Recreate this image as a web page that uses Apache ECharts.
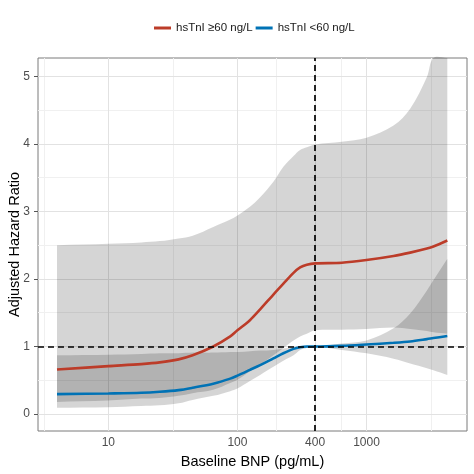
<!DOCTYPE html>
<html><head><meta charset="utf-8">
<script src="https://cdn.jsdelivr.net/npm/echarts@6/dist/echarts.min.js"></script>
<style>html,body{margin:0;padding:0;background:#fff}#c{width:474px;height:474px}</style>
</head><body><div id="c"></div>
<script>
// Baseline BNP (pg/mL) sample points
const bnp    = [4, 10, 18, 25, 35, 45, 65, 88, 100, 125, 150, 190, 227, 272, 306, 345, 400, 644, 1000, 1620, 2180, 2940, 3300, 4230];
// hsTnI >=60 ng/L
const redHR  = [0.66, 0.71, 0.74, 0.765, 0.81, 0.87, 1.0, 1.15, 1.24, 1.39, 1.55, 1.77, 1.93, 2.09, 2.17, 2.21, 2.23, 2.24, 2.28, 2.34, 2.39, 2.45, 2.48, 2.57];
const redLo  = [0.18, 0.20, 0.23, 0.24, 0.27, 0.31, 0.36, 0.46, 0.51, 0.63, 0.73, 0.87, 0.98, 1.09, 1.15, 1.19, 1.24, 1.25, 1.26, 1.28, 1.26, 1.23, 1.21, 1.19];
const redHi  = [2.50, 2.52, 2.54, 2.56, 2.60, 2.64, 2.77, 2.88, 2.94, 3.07, 3.21, 3.44, 3.66, 3.82, 3.91, 3.95, 3.99, 4.03, 4.09, 4.27, 4.52, 4.99, 5.30, 6.80];
// hsTnI <60 ng/L
const blueHR = [0.296, 0.306, 0.315, 0.33, 0.355, 0.39, 0.45, 0.525, 0.57, 0.655, 0.725, 0.825, 0.90, 0.965, 0.99, 1.0, 1.0, 1.01, 1.03, 1.055, 1.075, 1.11, 1.125, 1.155];
const blueLo = [0.093, 0.10, 0.12, 0.13, 0.16, 0.21, 0.27, 0.34, 0.38, 0.49, 0.58, 0.70, 0.79, 0.87, 0.95, 0.98, 1.0, 0.95, 0.90, 0.82, 0.75, 0.68, 0.65, 0.58];
const blueHi = [0.87, 0.88, 0.89, 0.90, 0.90, 0.91, 0.91, 0.92, 0.92, 0.93, 0.94, 0.95, 0.97, 0.99, 1.0, 1.0, 1.0, 1.045, 1.09, 1.27, 1.49, 1.83, 1.98, 2.30];

const xTicks = [10, 100, 400, 1000];
const xTickLabels = ['10', '100', '400', '1000'];
const xMinor = [3.162, 31.62, 200, 632.5, 3162];
const yTicks = [0, 1, 2, 3, 4, 5];
const yMinor = [0.5, 1.5, 2.5, 3.5, 4.5];
const refX = 400, refY = 1;

const FONT = '"Liberation Sans", Arial, sans-serif';
const chart = echarts.init(document.getElementById('c'), null, {renderer: 'canvas'});

function ribbon(lo, hi) {
  return {
    type: 'custom', coordinateSystem: 'cartesian2d', silent: true, z: 2,
    data: [[bnp[0], lo[0]]],
    renderItem: function (params, api) {
      const cs = params.coordSys;
      const cl = p => [p[0], Math.max(cs.y, Math.min(cs.y + cs.height, p[1]))];
      const n = bnp.length;
      const pts = [];
      for (let i = 0; i < n; i++) pts.push(cl(api.coord([bnp[i], hi[i]])));
      // repeat end vertices so the smoothed outline keeps sharp ends
      pts.push(pts[pts.length - 1]);
      const low = [];
      for (let i = n - 1; i >= 0; i--) low.push(cl(api.coord([bnp[i], lo[i]])));
      pts.push(low[0]);
      for (let i = 0; i < low.length; i++) pts.push(low[i]);
      pts.push(low[low.length - 1]);
      pts.push(pts[0]);
      return {type: 'polygon', shape: {points: pts, smooth: 0.35}, style: {fill: 'rgba(0,0,0,0.165)'}};
    }
  };
}
const pairs = (xs, ys) => xs.map((x, i) => [x, ys[i]]);
const gl = (arr, key) => arr.map(v => ({[key]: v}));

chart.setOption({
  animation: false,
  textStyle: {fontFamily: FONT},
  grid: {left: 38, right: 7, top: 58, bottom: 43, show: true, borderColor: '#7a7a7a', borderWidth: 1,
         backgroundColor: 'transparent', containLabel: false, outerBoundsMode: 'none'},
  legend: {
    data: ['hsTnI ≥60 ng/L', 'hsTnI <60 ng/L'],
    left: 149, top: 17, icon: 'rect', itemWidth: 17, itemHeight: 3, itemGap: 3,
    textStyle: {fontSize: 11.5, color: '#1a1a1a', fontFamily: FONT}
  },
  xAxis: {
    type: 'log', logBase: 10, min: 2.85, max: 6010,
    name: 'Baseline BNP (pg/mL)', nameLocation: 'middle', nameGap: 23, nameMoveOverlap: false,
    nameTextStyle: {fontSize: 14.5, color: '#000', fontFamily: FONT},
    axisLine: {show: false},
    axisTick: {show: true, length: 4, lineStyle: {color: '#555'}, customValues: xTicks},
    axisLabel: {show: true, margin: 6, fontSize: 12, color: '#4d4d4d', customValues: xTicks,
                formatter: v => xTickLabels[xTicks.indexOf(Math.round(v))] || String(Math.round(v))},
    splitLine: {show: false}, minorSplitLine: {show: false}
  },
  yAxis: {
    type: 'value', min: -0.25, max: 5.27,
    name: 'Adjusted Hazard Ratio', nameLocation: 'middle', nameGap: 16, nameMoveOverlap: false,
    nameTextStyle: {fontSize: 14.5, color: '#000', fontFamily: FONT},
    axisLine: {show: false},
    axisTick: {show: true, length: 4, lineStyle: {color: '#555'}, customValues: yTicks},
    axisLabel: {show: true, margin: 8, fontSize: 12, color: '#4d4d4d', customValues: yTicks},
    splitLine: {show: false}
  },
  series: [
    {
      type: 'line', name: '_grid', data: [], silent: true,
      markLine: {
        silent: true, z: 1, symbol: ['none', 'none'], label: {show: false}, animation: false,
        emphasis: {disabled: true},
        data: [
          ...gl(xMinor, 'xAxis').map(d => ({...d, lineStyle: {color: '#f0f0f0', width: 1, type: 'solid'}})),
          ...gl(yMinor, 'yAxis').map(d => ({...d, lineStyle: {color: '#f0f0f0', width: 1, type: 'solid'}})),
          ...gl(xTicks, 'xAxis').map(d => ({...d, lineStyle: {color: '#e2e2e2', width: 1, type: 'solid'}})),
          ...gl(yTicks, 'yAxis').map(d => ({...d, lineStyle: {color: '#e2e2e2', width: 1, type: 'solid'}}))
        ]
      }
    },
    ribbon(redLo, redHi),
    ribbon(blueLo, blueHi),
    {
      type: 'line', name: 'hsTnI ≥60 ng/L', data: pairs(bnp, redHR), smooth: 0.3, showSymbol: false, z: 3,
      color: '#BC3C29', lineStyle: {width: 2.6, color: '#BC3C29'}
    },
    {
      type: 'line', name: 'hsTnI <60 ng/L', data: pairs(bnp, blueHR), smooth: 0.3, showSymbol: false, z: 3,
      color: '#0072B5', lineStyle: {width: 2.6, color: '#0072B5'},
      markLine: {
        silent: true, z: 6, symbol: ['none', 'none'], label: {show: false}, animation: false,
        emphasis: {disabled: true},
        lineStyle: {color: '#000', width: 1.7, type: [6, 4]},
        data: [{xAxis: refX}, {yAxis: refY}]
      }
    }
  ]
});
</script></body></html>
